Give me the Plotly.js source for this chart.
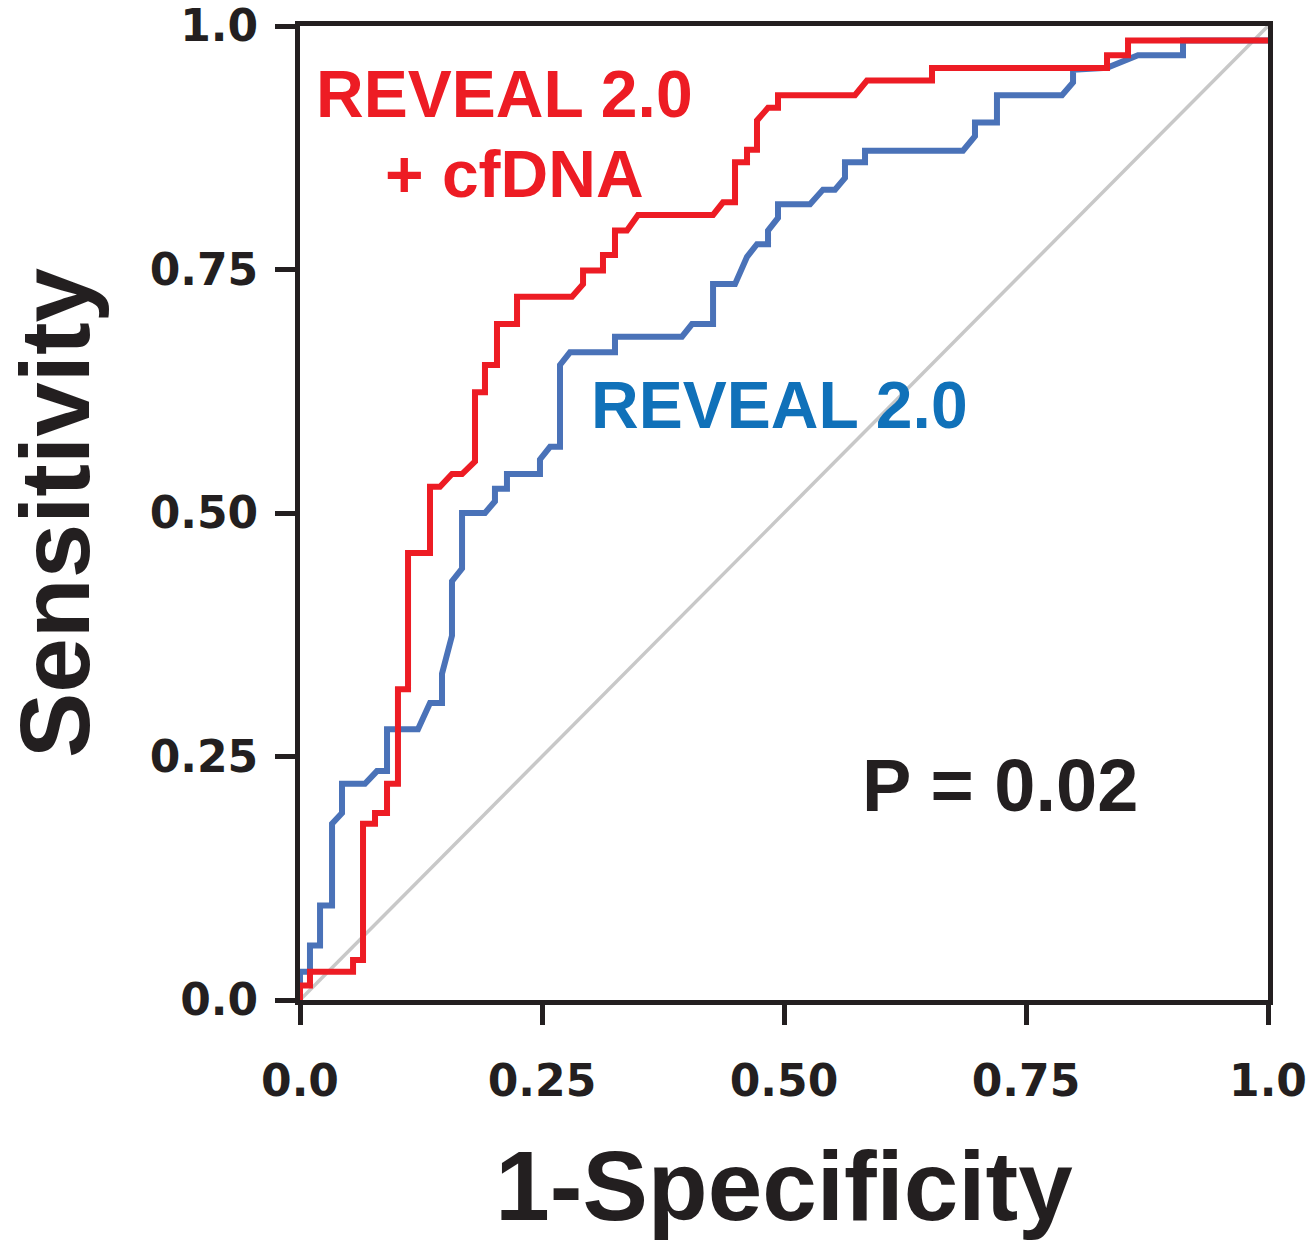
<!DOCTYPE html>
<html>
<head>
<meta charset="utf-8">
<script src="https://cdn.plot.ly/plotly-3.0.1.min.js"></script>
<style>html,body{margin:0;padding:0;background:#fff;}#chart{width:1313px;height:1254px;}</style>
</head>
<body>
<div id="chart"></div>
<script>
// REVEAL 2.0 ROC curve (1-specificity, sensitivity)
const revealX = [0, 0, 0.0103, 0.0103, 0.0207, 0.0207, 0.0331, 0.0331, 0.0434, 0.0434, 0.0671, 0.0795, 0.0899, 0.0899, 0.1219, 0.1343, 0.1467, 0.1467, 0.1570, 0.1570, 0.1674, 0.1674, 0.1911, 0.2014, 0.2014, 0.2138, 0.2138, 0.2479, 0.2479, 0.2583, 0.2686, 0.2686, 0.2789, 0.3254, 0.3254, 0.3946, 0.4050, 0.4267, 0.4267, 0.4494, 0.4618, 0.4721, 0.4835, 0.4835, 0.4938, 0.4938, 0.5269, 0.5403, 0.5527, 0.5630, 0.5630, 0.5837, 0.5837, 0.6849, 0.6973, 0.6973, 0.7200, 0.7200, 0.7872, 0.7986, 0.7986, 0.8337, 0.8657, 0.9122, 0.9122, 1.0];
const revealY = [0, 0.029, 0.029, 0.056, 0.056, 0.097, 0.097, 0.181, 0.192, 0.222, 0.222, 0.235, 0.235, 0.278, 0.278, 0.305, 0.305, 0.335, 0.374, 0.430, 0.443, 0.500, 0.500, 0.512, 0.525, 0.525, 0.540, 0.540, 0.555, 0.568, 0.568, 0.652, 0.665, 0.665, 0.681, 0.681, 0.694, 0.694, 0.735, 0.735, 0.763, 0.776, 0.776, 0.790, 0.803, 0.817, 0.817, 0.832, 0.832, 0.844, 0.860, 0.860, 0.872, 0.872, 0.887, 0.901, 0.901, 0.929, 0.929, 0.942, 0.955, 0.957, 0.970, 0.970, 0.985, 0.985];

// REVEAL 2.0 + cfDNA ROC curve
const cfdnaX = [0, 0, 0.0103, 0.0103, 0.0548, 0.0548, 0.0651, 0.0651, 0.0775, 0.0775, 0.0899, 0.0899, 0.1012, 0.1012, 0.1116, 0.1116, 0.1343, 0.1343, 0.1446, 0.1570, 0.1674, 0.1808, 0.1808, 0.1911, 0.1911, 0.2035, 0.2035, 0.2242, 0.2242, 0.2810, 0.2924, 0.2924, 0.3130, 0.3130, 0.3254, 0.3254, 0.3378, 0.3492, 0.4267, 0.4370, 0.4494, 0.4494, 0.4618, 0.4618, 0.4721, 0.4721, 0.4835, 0.4938, 0.4938, 0.5733, 0.5857, 0.6529, 0.6529, 0.8337, 0.8337, 0.8554, 0.8554, 1.0];
const cfdnaY = [0, 0.015, 0.015, 0.029, 0.029, 0.041, 0.041, 0.181, 0.181, 0.192, 0.192, 0.222, 0.222, 0.319, 0.319, 0.459, 0.459, 0.527, 0.527, 0.540, 0.540, 0.553, 0.624, 0.624, 0.652, 0.652, 0.694, 0.694, 0.722, 0.722, 0.735, 0.749, 0.749, 0.765, 0.765, 0.790, 0.790, 0.806, 0.806, 0.819, 0.819, 0.860, 0.860, 0.873, 0.873, 0.903, 0.916, 0.916, 0.929, 0.929, 0.944, 0.944, 0.957, 0.957, 0.970, 0.970, 0.985, 0.985];

// Reference diagonal
const diagX = [0, 1];
const diagY = [0, 1];

// Axis ticks
const tickVals = [0, 0.25, 0.5, 0.75, 1];
const tickText = ["0.0", "0.25", "0.50", "0.75", "1.0"];

// Labels
const labelCfdna1 = "REVEAL 2.0";
const labelCfdna2 = "+ cfDNA";
const labelReveal = "REVEAL 2.0";
const labelP = "P = 0.02";

const RED = "#ED1C24";
const BLUE_LINE = "#4A72B8";
const BLUE_TEXT = "#1071B9";
const INK = "#231F20";

const traces = [
  {x: diagX, y: diagY, mode: "lines", line: {color: "#C8C8C8", width: 3.5}, hoverinfo: "skip", showlegend: false},
  {x: revealX, y: revealY, mode: "lines", line: {color: BLUE_LINE, width: 6}, name: "REVEAL 2.0", showlegend: false},
  {x: cfdnaX, y: cfdnaY, mode: "lines", line: {color: RED, width: 6}, name: "REVEAL 2.0 + cfDNA", showlegend: false}
];

const tickFont = {family: "DejaVu Sans", size: 44, color: INK, weight: 700};
const titleFont = {family: "Liberation Sans, Arial, sans-serif", size: 98, color: INK, weight: 700};

const layout = {
  width: 1313, height: 1254,
  margin: {l: 300, r: 45, t: 26, b: 254, autoexpand: false},
  paper_bgcolor: "#fff", plot_bgcolor: "#fff",
  showlegend: false,
  xaxis: {
    range: [0, 1], tickvals: tickVals, ticktext: tickText,
    showgrid: false, zeroline: false,
    showline: true, linecolor: INK, linewidth: 5, mirror: true,
    ticks: "outside", ticklen: 20, tickwidth: 5, tickcolor: INK,
    tickfont: tickFont, ticklabelstandoff: 18, ticklabeloverflow: "allow",
    title: {text: "1-Specificity", font: titleFont, standoff: 48},
    automargin: false, fixedrange: true
  },
  yaxis: {
    range: [0, 1], tickvals: tickVals, ticktext: tickText,
    showgrid: false, zeroline: false,
    showline: true, linecolor: INK, linewidth: 5, mirror: true,
    ticks: "outside", ticklen: 20, tickwidth: 5, tickcolor: INK,
    tickfont: tickFont, ticklabelstandoff: 8, ticklabeloverflow: "allow",
    title: {text: "Sensitivity", font: titleFont, standoff: 60},
    automargin: false, fixedrange: true
  },
  annotations: [
    {x: 0.211, y: 0.930, xref: "x", yref: "y", text: labelCfdna1, showarrow: false, xanchor: "center", yanchor: "middle",
     font: {family: "Liberation Sans, Arial, sans-serif", size: 66, color: RED, weight: 700}},
    {x: 0.222, y: 0.848, xref: "x", yref: "y", text: labelCfdna2, showarrow: false, xanchor: "center", yanchor: "middle",
     font: {family: "Liberation Sans, Arial, sans-serif", size: 66, color: RED, weight: 700}},
    {x: 0.495, y: 0.611, xref: "x", yref: "y", text: labelReveal, showarrow: false, xanchor: "center", yanchor: "middle",
     font: {family: "Liberation Sans, Arial, sans-serif", size: 66, color: BLUE_TEXT, weight: 700}},
    {x: 0.723, y: 0.220, xref: "x", yref: "y", text: labelP, showarrow: false, xanchor: "center", yanchor: "middle",
     font: {family: "Liberation Sans, Arial, sans-serif", size: 74, color: INK, weight: 700}}
  ]
};

Plotly.newPlot("chart", traces, layout, {displayModeBar: false, staticPlot: true});
</script>
</body>
</html>
